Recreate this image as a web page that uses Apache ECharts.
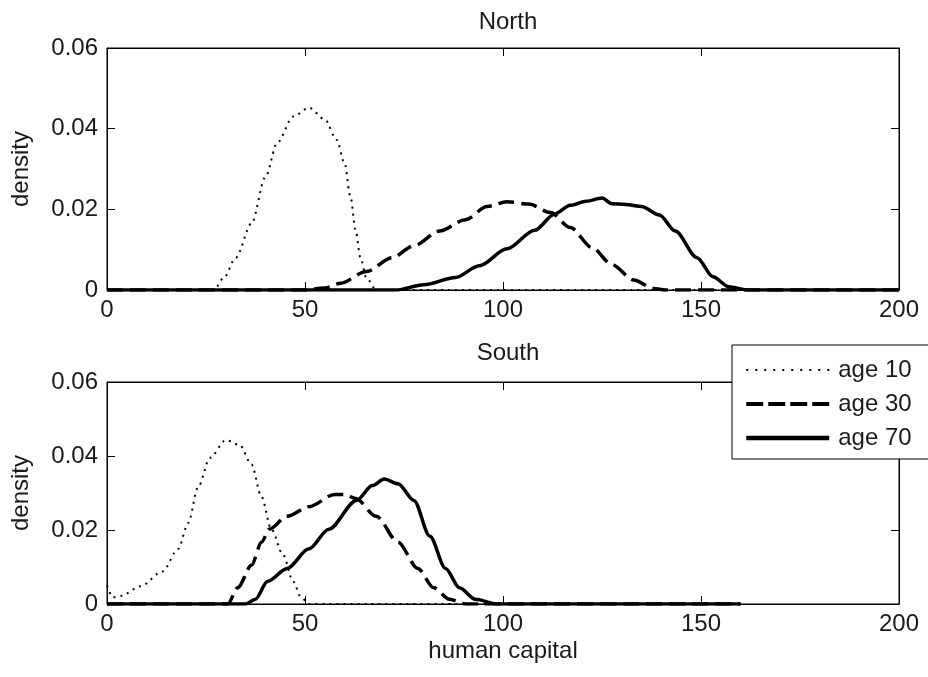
<!DOCTYPE html>
<html>
<head>
<meta charset="utf-8">
<title>Human capital density by age</title>
<script src="https://cdn.jsdelivr.net/npm/echarts@6/dist/echarts.min.js"></script>
<style>
  html, body { margin: 0; padding: 0; background: #fff; }
  #chart { width: 928px; height: 677px; }
</style>
</head>
<body>
<div id="chart"></div>
<script>
// Density of human capital, [human capital, density] pairs per age group.
const northAge10 = [[0,0],[27,0],[29.5,0.003],[32.5,0.008],[36.5,0.0165],[40,0.028],[43,0.0365],[47,0.043],[51,0.0452],[55,0.0423],[58,0.0372],[60,0.0314],[61.5,0.023],[62.8,0.0146],[64,0.008],[65.5,0.003],[68,0],[200,0]];
const northAge30 = [[0,0],[50,0],[55,0.0005],[59,0.0017],[65.5,0.0046],[72,0.008],[77.5,0.011],[84,0.0146],[90.5,0.0174],[96,0.0207],[101,0.0219],[106.5,0.0213],[112,0.0192],[117,0.0155],[122.5,0.0105],[127.5,0.0063],[133,0.0025],[138,0.0004],[141,0],[200,0]];
const northAge70 = [[0,0],[73,0],[80,0.0013],[88,0.0031],[94,0.006],[101,0.0102],[108,0.0148],[113,0.0188],[117,0.021],[121,0.022],[125,0.0228],[127.5,0.0214],[131,0.0212],[135,0.0207],[139.5,0.0186],[143.5,0.0146],[149,0.008],[153,0.0033],[157,0.0008],[162,0],[200,0]];

const southAge10 = [[0,0.005],[1.5,0.0018],[3.5,0.0022],[8.5,0.0048],[14,0.0088],[18,0.0149],[20.5,0.0219],[23,0.0316],[26,0.0395],[30,0.0443],[33.5,0.043],[36.5,0.0377],[39,0.029],[41.5,0.0202],[44.5,0.0132],[47,0.0061],[49,0.0018],[51,0],[160,0]];
const southAge30 = [[0,0],[30.5,0],[33,0.0044],[36.5,0.0105],[39,0.0167],[41,0.0202],[45.5,0.0237],[51,0.0263],[57.5,0.0296],[60,0.0296],[62.8,0.0285],[68,0.0237],[73.5,0.0167],[78.5,0.0096],[82.5,0.0044],[86.5,0.0013],[90.5,0],[160,0]];
const southAge70 = [[0,0],[35,0],[37.5,0.0013],[40.5,0.0061],[45.5,0.0096],[51,0.0149],[56,0.0202],[63,0.028],[67,0.032],[70,0.0338],[73.5,0.0325],[77.5,0.028],[81.5,0.0184],[85.5,0.0096],[89,0.0044],[93,0.0013],[98.5,0],[160,0]];

const seriesNames = ['age 10', 'age 30', 'age 70'];
const panelTitles = ['North', 'South'];
const xRange = [0, 200, 50];      // min, max, step
const yRange = [0, 0.06, 0.02];

const FONT = '"Liberation Sans", Arial, Helvetica, sans-serif';
const INK = '#1a1a1a';

const lineStyles = [
  { color: '#000', width: 2, type: [2, 5] },     // dotted
  { color: '#000', width: 3.5, type: [16, 7] },  // dashed
  { color: '#000', width: 3.5, type: 'solid' }   // solid
];
// Legend samples are drawn a little heavier than the curves
const legendLineStyles = [
  { color: '#000', width: 2, type: [2, 7] },
  { color: '#000', width: 4, type: [17, 5] },
  { color: '#000', width: 4.5, type: 'solid' }
];

const grids = [
  { left: 107, top: 48, width: 792, height: 242 },
  { left: 107, top: 382, width: 792, height: 222 }
];

const xAxes = [];
const yAxes = [];
grids.forEach((g, i) => {
  const isBottom = i === grids.length - 1;
  const baseX = {
    type: 'value', gridIndex: i, min: xRange[0], max: xRange[1], interval: xRange[2],
    axisLine: { show: true, onZero: false, lineStyle: { color: '#000', width: 1 } },
    axisTick: { show: true, inside: true, length: 8, lineStyle: { color: '#000' } },
    splitLine: { show: false }
  };
  xAxes.push(Object.assign({}, baseX, {
    position: 'bottom',
    axisLabel: { show: true, fontSize: 24, fontFamily: FONT, color: INK, margin: 8 },
    name: isBottom ? 'human capital' : '',
    nameLocation: 'middle', nameGap: 35,
    nameTextStyle: { fontSize: 24, fontFamily: FONT, color: INK }
  }));
  xAxes.push(Object.assign({}, baseX, { position: 'top', axisLabel: { show: false } }));

  const baseY = {
    type: 'value', gridIndex: i, min: yRange[0], max: yRange[1], interval: yRange[2],
    axisLine: { show: true, onZero: false, lineStyle: { color: '#000', width: 1 } },
    axisTick: { show: true, inside: true, length: 8, lineStyle: { color: '#000' } },
    splitLine: { show: false }
  };
  yAxes.push(Object.assign({}, baseY, {
    position: 'left',
    axisLabel: { show: true, fontSize: 24, fontFamily: FONT, color: INK, margin: 9 },
    name: 'density', nameLocation: 'middle', nameGap: 74,
    nameTextStyle: { fontSize: 24, fontFamily: FONT, color: INK }
  }));
  yAxes.push(Object.assign({}, baseY, { position: 'right', axisLabel: { show: false } }));
});

const panelData = [
  [northAge10, northAge30, northAge70],
  [southAge10, southAge30, southAge70]
];

const series = [];
panelData.forEach((curves, gi) => {
  curves.forEach((data, k) => {
    series.push({
      type: 'line', name: seriesNames[k],
      xAxisIndex: gi * 2, yAxisIndex: gi * 2,
      data: data, symbol: 'none', smooth: 0.3, smoothMonotone: 'x',
      itemStyle: { color: '#000' },
      lineStyle: lineStyles[k], z: 3 + k
    });
  });
});

const option = {
  animation: false,
  backgroundColor: '#fff',
  title: panelTitles.map((t, i) => ({
    text: t, left: 503, top: i === 0 ? 5 : 336, textAlign: 'center',
    textStyle: { fontSize: 24, fontWeight: 'normal', fontFamily: FONT, color: INK }
  })),
  grid: grids.map(g => Object.assign({ show: true, borderColor: '#000', borderWidth: 1, backgroundColor: 'transparent' }, g)),
  xAxis: xAxes,
  yAxis: yAxes,
  legend: {
    data: seriesNames.map((n, k) => ({ name: n, lineStyle: legendLineStyles[k] })),
    orient: 'vertical', left: 732, top: 345,
    itemWidth: 83, itemHeight: 14, itemGap: 8,
    padding: [12, 24, 8, 12],
    backgroundColor: '#fff', borderColor: '#000', borderWidth: 1,
    itemStyle: { opacity: 0 },
    textStyle: { fontSize: 24, fontFamily: FONT, color: INK, lineHeight: 26, padding: [0, 0, 0, 4] },
    selectedMode: false, z: 10
  },
  series: series
};

const chart = echarts.init(document.getElementById('chart'), null, { renderer: 'canvas' });
chart.setOption(option);
</script>
</body>
</html>
